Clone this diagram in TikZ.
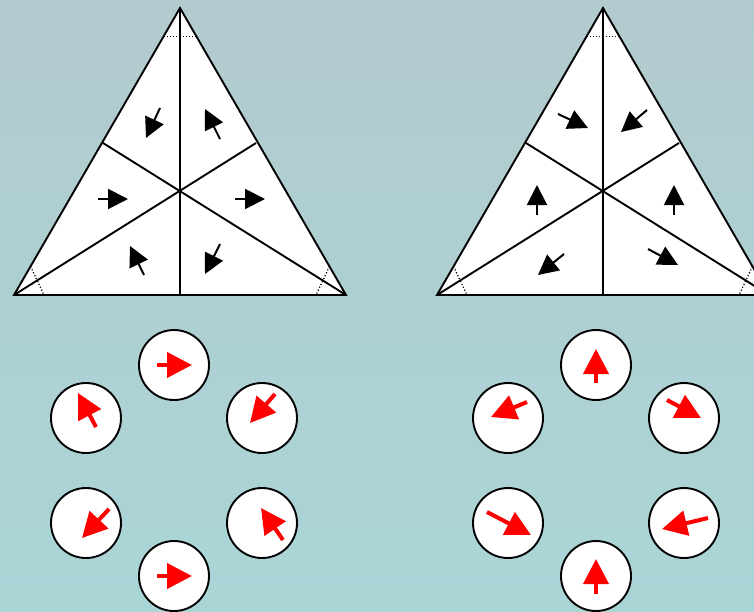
\documentclass[tikz,border=0pt]{standalone}
\usetikzlibrary{arrows.meta,calc}

\definecolor{bgtop}{RGB}{178,202,206}
\definecolor{bgmid}{RGB}{155,190,195}
\definecolor{bgbot}{RGB}{170,213,215}

\begin{document}
\begin{tikzpicture}[x=1pt, y=-1pt,
		edge/.style={line width=1.9pt},
		cut/.style={dotted, line width=1.2pt},
		blackarrow/.style={line width=2pt, -{Triangle[length=20pt, width=20pt]}},
		redarrow/.style={red, line width=4pt, -{Triangle[length=25pt, width=25pt]}},
		spin/.style={circle, draw, fill=white, line width=1.9pt, minimum size=70pt, inner sep=0pt}]
		\useasboundingbox (0,0) rectangle (754,611);
		\clip (0,0) rectangle (754,611);
		\shade [top color=bgtop, middle color=bgmid, bottom color=bgbot] (0,0) rectangle (754,611);
		% left triangle
		\coordinate (A) at (14,295);
		\coordinate (B) at (346,295);
		\coordinate (C) at (180,8);
		\coordinate (M) at (180,295);
		\coordinate (P) at (256,143);
		\coordinate (Q) at (103,143);
		\draw [edge, fill=white] (A) -- (B) -- (C) -- cycle;
		\draw [edge] (C) -- (M);
		\draw [edge] (A) -- (P);
		\draw [edge] (B) -- (Q);
		\draw [cut] ($(C)!33pt!(A)$) -- ($(C)!33pt!(B)$);
		\draw [cut] ($(A)!33pt!(C)$) -- ($(A)!30pt!(B)$);
		\draw [cut] ($(B)!33pt!(C)$) -- ($(B)!30pt!(A)$);
		\draw [blackarrow] (160,108) -- (146,138);
		\draw [blackarrow] (220,139) -- (205,109);
		\draw [blackarrow] (98,199) -- (128,199);
		\draw [blackarrow] (235,199) -- (265,199);
		\draw [blackarrow] (144,275) -- (130,246);
		\draw [blackarrow] (220,244) -- (205,274);
		% right triangle
		\coordinate (A2) at (437,295);
		\coordinate (B2) at (769,295);
		\coordinate (C2) at (603,8);
		\coordinate (M2) at (603,295);
		\coordinate (P2) at (679,143);
		\coordinate (Q2) at (526,143);
		\draw [edge, fill=white] (A2) -- (B2) -- (C2) -- cycle;
		\draw [edge] (C2) -- (M2);
		\draw [edge] (A2) -- (P2);
		\draw [edge] (B2) -- (Q2);
		\draw [cut] ($(C2)!33pt!(A2)$) -- ($(C2)!33pt!(B2)$);
		\draw [cut] ($(A2)!33pt!(C2)$) -- ($(A2)!30pt!(B2)$);
		\draw [cut] ($(B2)!33pt!(C2)$) -- ($(B2)!30pt!(A2)$);
		\draw [blackarrow] (558,114) -- (588,128);
		\draw [blackarrow] (647,110) -- (621,132);
		\draw [blackarrow] (537,215) -- (537,185);
		\draw [blackarrow] (674,215) -- (674,185);
		\draw [blackarrow] (564,254) -- (538,275);
		\draw [blackarrow] (648,249) -- (678,265);
		% left ring
		\node [spin] (s1) at (174,365) {};
		\node [spin] (s2) at (86,418) {};
		\node [spin] (s3) at (262,418) {};
		\node [spin] (s4) at (86,523) {};
		\node [spin] (s5) at (262,523) {};
		\node [spin] (s6) at (174,576) {};
		\draw [redarrow] (157,365) -- (192,365);
		\draw [redarrow] (96,427) -- (78,393);
		\draw [redarrow] (275,394) -- (250,423);
		\draw [redarrow] (109,509) -- (82,538);
		\draw [redarrow] (283,540) -- (261,508);
		\draw [redarrow] (157,576) -- (192,576);
		% right ring
		\node [spin] (t1) at (596,365) {};
		\node [spin] (t2) at (508,418) {};
		\node [spin] (t3) at (684,418) {};
		\node [spin] (t4) at (508,523) {};
		\node [spin] (t5) at (684,523) {};
		\node [spin] (t6) at (596,576) {};
		\draw [redarrow] (596,383) -- (596,349);
		\draw [redarrow] (527,402) -- (491,417);
		\draw [redarrow] (667,400) -- (701,418);
		\draw [redarrow] (487,512) -- (531,535);
		\draw [redarrow] (708,518) -- (662,529);
		\draw [redarrow] (596,594) -- (596,559);
	\end{tikzpicture}
\end{document}
